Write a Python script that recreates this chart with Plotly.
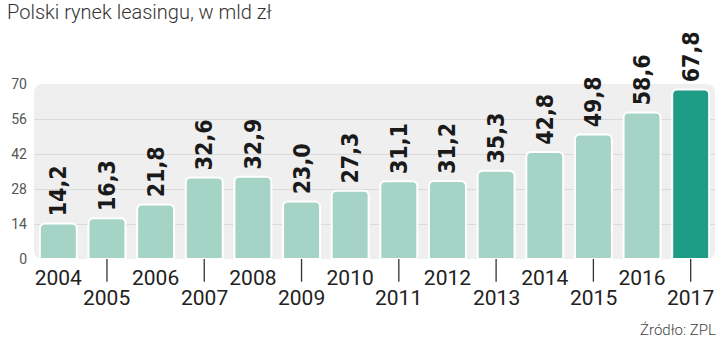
import plotly.graph_objects as go

years = ["2004", "2005", "2006", "2007", "2008", "2009", "2010",
         "2011", "2012", "2013", "2014", "2015", "2016", "2017"]
values = [14.2, 16.3, 21.8, 32.6, 32.9, 23.0, 27.3, 31.1, 31.2, 35.3, 42.8, 49.8, 58.6, 67.8]
value_labels = ["14,2", "16,3", "21,8", "32,6", "32,9", "23,0", "27,3",
                "31,1", "31,2", "35,3", "42,8", "49,8", "58,6", "67,8"]
y_ticks = [0, 14, 28, 42, 56, 70]
title = "Polski rynek leasingu, w mld zł"
source = "Źródło: ZPL"

LIGHT = "#A5D4C6"
DARK = "#1E9C85"
colors = [LIGHT] * (len(years) - 1) + [DARK]

even_years = years[0::2]

fig = go.Figure()
fig.add_trace(go.Bar(
    x=years, y=values,
    marker=dict(color=colors, line=dict(color="white", width=2), cornerradius=5),
    width=0.76,
    text=["\u2009" + l for l in value_labels], textposition="outside", textangle=-90,
    constraintext="none", cliponaxis=False,
    textfont=dict(family="DejaVu Sans Condensed, DejaVu Sans", size=23, color="#1a1a1a", weight="bold"),
    hoverinfo="skip",
))

# rounded background panel
rx, ry = 9 / 681, 9 / 175
path = (f"M {rx},0 L {1-rx},0 Q 1,0 1,{ry} L 1,{1-ry} Q 1,1 {1-rx},1 "
        f"L {rx},1 Q 0,1 0,{1-ry} L 0,{ry} Q 0,0 {rx},0 Z")
shapes = [dict(type="path", xref="paper", yref="paper", path=path,
               fillcolor="#EFEFEF", line=dict(width=0), layer="below")]

annotations = [
    dict(text=title, xref="paper", yref="paper", x=-0.043, y=1.41,
         xanchor="left", yanchor="middle", showarrow=False,
         font=dict(family="Roboto", size=20, color="#333333", weight=300)),
    dict(text=source, xref="paper", yref="paper", x=1.005, y=-0.405,
         xanchor="right", yanchor="middle", showarrow=False,
         font=dict(family="Roboto", size=15, color="#444444", weight=300)),
]
# tick marks and lower-row labels for odd years (category index positions)
for i, y in enumerate(years):
    if i % 2 == 1:
        shapes.append(dict(type="line", xref="x", yref="paper", x0=i, x1=i,
                           y0=0, y1=-0.13, line=dict(color="#333333", width=1.3)))
        annotations.append(dict(text=y, xref="x", yref="paper", x=i, y=0,
                                xanchor="center", yanchor="middle", yshift=-39,
                                showarrow=False,
                                font=dict(family="Roboto", size=21, color="#222222")))

fig.update_layout(
    width=720, height=341,
    margin=dict(l=34, r=5, t=84, b=82),
    paper_bgcolor="white", plot_bgcolor="rgba(0,0,0,0)",
    showlegend=False, bargap=0.24,
    shapes=shapes,
    font=dict(family="Roboto, sans-serif"),
    xaxis=dict(type="category", categoryorder="array", categoryarray=years,
               range=[-0.5, len(years) - 0.5],
               tickvals=even_years, ticktext=even_years, showgrid=False, zeroline=False,
               showline=False, ticks="", tickfont=dict(size=21, color="#222222"),
               ticklabelstandoff=4, fixedrange=True),
    yaxis=dict(range=[0, 70], tickvals=y_ticks, showgrid=True, gridcolor="#DADADA",
               gridwidth=1, zeroline=False, showline=False, ticks="",
               tickfont=dict(size=14, color="#555555"), ticklabelstandoff=6,
               fixedrange=True),
    annotations=annotations,
)

fig.write_html("out.html")
